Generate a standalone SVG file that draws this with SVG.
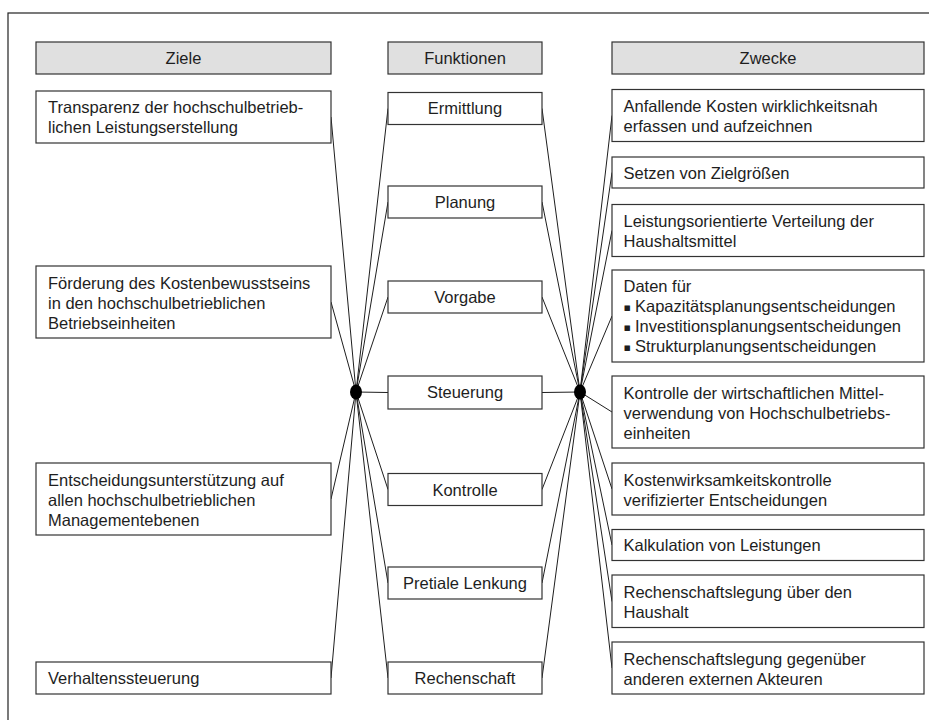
<svg xmlns="http://www.w3.org/2000/svg" width="929" height="720" viewBox="0 0 929 720">
  <style>
    .frame { fill: #ffffff; stroke: #222222; stroke-width: 1.2; }
    .head { fill: #e0e0e0; stroke: #333333; stroke-width: 1.2; }
    .box { fill: #ffffff; stroke: #333333; stroke-width: 1.2; }
    .t { font-family: "Liberation Sans", Arial, sans-serif; font-size: 16.5px; fill: #1e1e1e; }
    .c { text-anchor: middle; }
    .bul { font-family: "DejaVu Sans", "Liberation Sans", sans-serif; font-size: 11px; fill: #1e1e1e; }
    .conn line { stroke: #1e1e1e; stroke-width: 1; fill: none; }
    .hub { fill: #000000; }
  </style>

  <!-- outer frame -->
  <rect class="frame" x="8" y="13" width="940" height="730"/>

  <!-- column headers -->
  <g id="head-ziele">
    <rect class="head" x="36" y="42" width="295" height="32"/>
    <text class="t c" x="183.5" y="64">Ziele</text>
  </g>
  <g id="head-funktionen">
    <rect class="head" x="388" y="42" width="154" height="32"/>
    <text class="t c" x="465" y="64">Funktionen</text>
  </g>
  <g id="head-zwecke">
    <rect class="head" x="612" y="42" width="312" height="32"/>
    <text class="t c" x="768" y="64">Zwecke</text>
  </g>

  <!-- connectors -->
  <g id="connectors" class="conn">
    <!-- goals to left hub -->
    <line x1="331" y1="117" x2="356" y2="392"/>
    <line x1="331" y1="302" x2="356" y2="392"/>
    <line x1="331" y1="499" x2="356" y2="392"/>
    <line x1="331" y1="678" x2="356" y2="392"/>
    <!-- left hub to functions -->
    <line x1="356" y1="392" x2="388" y2="108.5"/>
    <line x1="356" y1="392" x2="388" y2="202"/>
    <line x1="356" y1="392" x2="388" y2="297"/>
    <line x1="356" y1="392" x2="388" y2="392.5"/>
    <line x1="356" y1="392" x2="388" y2="489.5"/>
    <line x1="356" y1="392" x2="388" y2="583"/>
    <line x1="356" y1="392" x2="388" y2="678"/>
    <!-- functions to right hub -->
    <line x1="542" y1="108.5" x2="580" y2="392"/>
    <line x1="542" y1="202" x2="580" y2="392"/>
    <line x1="542" y1="297" x2="580" y2="392"/>
    <line x1="542" y1="392.5" x2="580" y2="392"/>
    <line x1="542" y1="489.5" x2="580" y2="392"/>
    <line x1="542" y1="583" x2="580" y2="392"/>
    <line x1="542" y1="678" x2="580" y2="392"/>
    <!-- right hub to purposes -->
    <line x1="580" y1="392" x2="612" y2="115.5"/>
    <line x1="580" y1="392" x2="612" y2="172.5"/>
    <line x1="580" y1="392" x2="612" y2="230.5"/>
    <line x1="580" y1="392" x2="612" y2="316"/>
    <line x1="580" y1="392" x2="612" y2="412"/>
    <line x1="580" y1="392" x2="612" y2="489"/>
    <line x1="580" y1="392" x2="612" y2="545"/>
    <line x1="580" y1="392" x2="612" y2="601.5"/>
    <line x1="580" y1="392" x2="612" y2="668"/>
  </g>

  <!-- hubs -->
  <g id="hub-left"><ellipse class="hub" cx="356" cy="392" rx="6" ry="7.5"/></g>
  <g id="hub-right"><ellipse class="hub" cx="580" cy="392" rx="6" ry="7.5"/></g>

  <!-- goals -->
  <g id="ziel-1">
    <rect class="box" x="36" y="91" width="295" height="52"/>
    <text class="t" x="48" y="113">Transparenz der hochschulbetrieb-</text>
    <text class="t" x="48" y="133">lichen Leistungserstellung</text>
  </g>
  <g id="ziel-2">
    <rect class="box" x="36" y="266" width="295" height="72"/>
    <text class="t" x="48" y="288.5">Förderung des Kostenbewusstseins</text>
    <text class="t" x="48" y="308.5">in den hochschulbetrieblichen</text>
    <text class="t" x="48" y="328.5">Betriebseinheiten</text>
  </g>
  <g id="ziel-3">
    <rect class="box" x="36" y="463" width="295" height="72"/>
    <text class="t" x="48" y="485.5">Entscheidungsunterstützung auf</text>
    <text class="t" x="48" y="505.5">allen hochschulbetrieblichen</text>
    <text class="t" x="48" y="525.5">Managementebenen</text>
  </g>
  <g id="ziel-4">
    <rect class="box" x="36" y="662" width="295" height="32"/>
    <text class="t" x="48" y="684">Verhaltenssteuerung</text>
  </g>

  <!-- functions -->
  <g id="f-ermittlung">
    <rect class="box" x="388" y="92.5" width="154" height="32"/>
    <text class="t c" x="465" y="114">Ermittlung</text>
  </g>
  <g id="f-planung">
    <rect class="box" x="388" y="186" width="154" height="32"/>
    <text class="t c" x="465" y="208">Planung</text>
  </g>
  <g id="f-vorgabe">
    <rect class="box" x="388" y="281" width="154" height="32"/>
    <text class="t c" x="465" y="303">Vorgabe</text>
  </g>
  <g id="f-steuerung">
    <rect class="box" x="388" y="376" width="154" height="33"/>
    <text class="t c" x="465" y="398">Steuerung</text>
  </g>
  <g id="f-kontrolle">
    <rect class="box" x="388" y="473.5" width="154" height="32"/>
    <text class="t c" x="465" y="495.5">Kontrolle</text>
  </g>
  <g id="f-pretiale">
    <rect class="box" x="388" y="567" width="154" height="32"/>
    <text class="t c" x="465" y="589">Pretiale Lenkung</text>
  </g>
  <g id="f-rechenschaft">
    <rect class="box" x="388" y="662" width="154" height="32"/>
    <text class="t c" x="465" y="684">Rechenschaft</text>
  </g>

  <!-- purposes -->
  <g id="z-1">
    <rect class="box" x="612" y="89.5" width="312" height="52"/>
    <text class="t" x="623.5" y="112">Anfallende Kosten wirklichkeitsnah</text>
    <text class="t" x="623.5" y="132">erfassen und aufzeichnen</text>
  </g>
  <g id="z-2">
    <rect class="box" x="612" y="157" width="312" height="31"/>
    <text class="t" x="623.5" y="178.5">Setzen von Zielgrößen</text>
  </g>
  <g id="z-3">
    <rect class="box" x="612" y="204.5" width="312" height="52"/>
    <text class="t" x="623.5" y="227">Leistungsorientierte Verteilung der</text>
    <text class="t" x="623.5" y="247">Haushaltsmittel</text>
  </g>
  <g id="z-4">
    <rect class="box" x="612" y="270" width="312" height="92"/>
    <text class="t" x="623.5" y="292">Daten für</text>
    <text class="bul" x="623.5" y="311">▪</text>
    <text class="t" x="635" y="312">Kapazitätsplanungsentscheidungen</text>
    <text class="bul" x="623.5" y="331">▪</text>
    <text class="t" x="635" y="332">Investitionsplanungsentscheidungen</text>
    <text class="bul" x="623.5" y="351">▪</text>
    <text class="t" x="635" y="352">Strukturplanungsentscheidungen</text>
  </g>
  <g id="z-5">
    <rect class="box" x="612" y="376" width="312" height="72"/>
    <text class="t" x="623.5" y="398.5">Kontrolle der wirtschaftlichen Mittel-</text>
    <text class="t" x="623.5" y="418.5">verwendung von Hochschulbetriebs-</text>
    <text class="t" x="623.5" y="438.5">einheiten</text>
  </g>
  <g id="z-6">
    <rect class="box" x="612" y="463" width="312" height="52"/>
    <text class="t" x="623.5" y="485.5">Kostenwirksamkeitskontrolle</text>
    <text class="t" x="623.5" y="505.5">verifizierter Entscheidungen</text>
  </g>
  <g id="z-7">
    <rect class="box" x="612" y="529.5" width="312" height="31"/>
    <text class="t" x="623.5" y="551">Kalkulation von Leistungen</text>
  </g>
  <g id="z-8">
    <rect class="box" x="612" y="575" width="312" height="52.5"/>
    <text class="t" x="623.5" y="597.5">Rechenschaftslegung über den</text>
    <text class="t" x="623.5" y="617.5">Haushalt</text>
  </g>
  <g id="z-9">
    <rect class="box" x="612" y="642" width="312" height="52"/>
    <text class="t" x="623.5" y="664.5">Rechenschaftslegung gegenüber</text>
    <text class="t" x="623.5" y="684.5">anderen externen Akteuren</text>
  </g>
</svg>
